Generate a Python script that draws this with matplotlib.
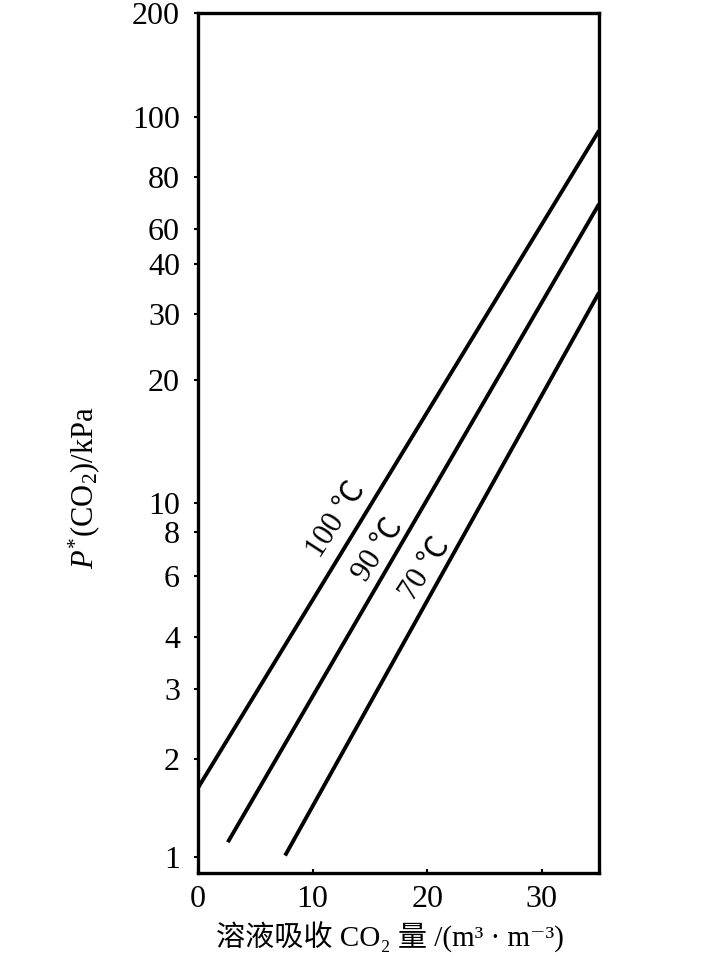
import numpy as np
import matplotlib
matplotlib.use("Agg")
import matplotlib.pyplot as plt
from matplotlib.ticker import FixedLocator, NullLocator, FixedFormatter

plt.rcParams['font.family'] = ['Liberation Serif', 'Noto Sans CJK SC', 'DejaVu Serif']
plt.rcParams['mathtext.fontset'] = 'custom'
plt.rcParams['mathtext.rm'] = 'Liberation Serif'
plt.rcParams['mathtext.it'] = 'Liberation Serif:italic'

# data
x_ticks = [0, 10, 20, 30]
y_ticks = [1, 2, 3, 4, 6, 8, 10, 20, 30, 40, 60, 80, 100, 200]
y_tick_labels = ['1', '2', '3', '4', '6', '8', '10', '20', '30', '40', '60', '80', '100', '200']
temps = ['100 ℃', '90 ℃', '70 ℃']
line_x = [[0, 35], [2.6, 35], [7.6, 35]]
line_p = [[1.63, 95], [1.11, 68.8], [1.01, 33.9]]
label_x = [12.0, 15.7, 19.8]
label_p = [8.8, 7.1, 6.3]

# the printed axis is not evenly logarithmic: height (px above the bottom
# spine) of each labelled value, used to build the y scale
tick_height = np.array([16, 114, 184, 236, 297, 341, 370, 493, 559, 609, 644, 696, 756, 860])
log_ticks = np.log10(np.array(y_ticks, dtype=float))


def _interp_ext(x, xp, fp):
    x = np.asarray(x, dtype=float)
    y = np.interp(x, xp, fp)
    lo = x < xp[0]
    hi = x > xp[-1]
    y = np.where(lo, fp[0] + (x - xp[0]) * (fp[1] - fp[0]) / (xp[1] - xp[0]), y)
    y = np.where(hi, fp[-1] + (x - xp[-1]) * (fp[-1] - fp[-2]) / (xp[-1] - xp[-2]), y)
    return y


def forward(v):
    v = np.maximum(np.asarray(v, dtype=float), 1e-9)
    return _interp_ext(np.log10(v), log_ticks, tick_height)


def inverse(h):
    return 10 ** _interp_ext(h, tick_height, log_ticks)


fig = plt.figure(figsize=(7.09, 9.69), dpi=100)
ax = fig.add_axes([0.2793, 0.0991, 0.5656, 0.8878])
ax.set_yscale('function', functions=(forward, inverse))

for xs, ps in zip(line_x, line_p):
    ax.plot(xs, ps, color='black', lw=2.8, solid_capstyle='butt')

for t, lx, lp in zip(temps, label_x, label_p):
    ax.text(lx, lp, t, fontsize=22, rotation=57, ha='center', va='center',
            rotation_mode='anchor')

ax.set_xlim(0, 35)
ax.set_ylim(float(inverse(0)), 200)

ax.xaxis.set_major_locator(FixedLocator(x_ticks))
ax.yaxis.set_major_locator(FixedLocator(y_ticks))
ax.yaxis.set_major_formatter(FixedFormatter(y_tick_labels))
ax.yaxis.set_minor_locator(NullLocator())
ax.xaxis.set_minor_locator(NullLocator())

ax.tick_params(axis='y', direction='out', length=3, width=1.5, labelsize=23, pad=10)
ax.tick_params(axis='x', direction='in', length=3, width=1.5, labelsize=23, pad=9)
for s in ax.spines.values():
    s.set_linewidth(2.4)

ax.set_ylabel(r'$\mathit{P}^{*}\mathrm{(CO_2)/kPa}$', fontsize=22)
ax.yaxis.set_label_coords(-0.24, 0.448)
ax.set_xlabel('溶液吸收 CO₂ 量 /(m³ · m⁻³)', fontsize=21)
ax.xaxis.set_label_coords(0.479, -0.057)

fig.savefig('out.png', dpi=100)
